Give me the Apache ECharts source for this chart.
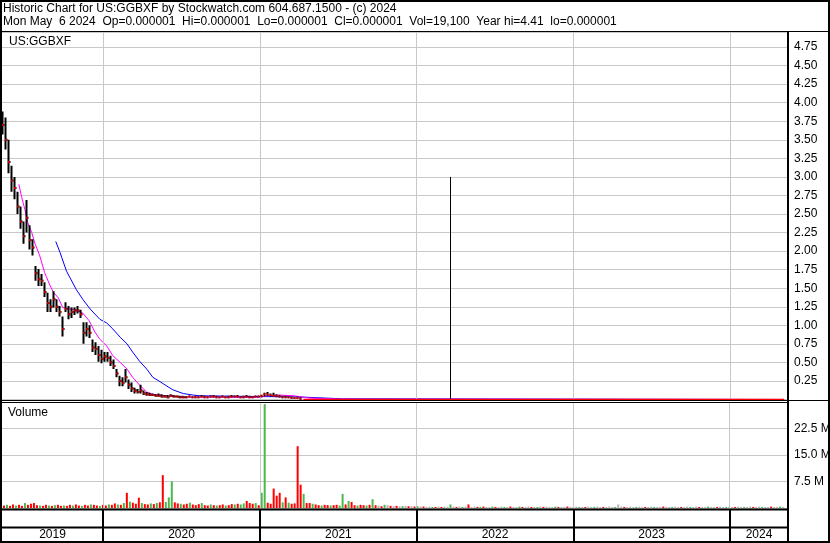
<!DOCTYPE html>
<html><head><meta charset="utf-8">
<script src="https://cdn.jsdelivr.net/npm/echarts@6/dist/echarts.min.js"></script>
<style>html,body{margin:0;padding:0;background:#fff}#c{width:830px;height:543px}</style>
</head><body><div id="c"></div>
<script>
// ---------- texts ----------
const titleLine1 = 'Historic Chart for US:GGBXF by Stockwatch.com 604.687.1500 - (c) 2024';
const titleLine2 = 'Mon May  6 2024  Op=0.000001  Hi=0.000001  Lo=0.000001  Cl=0.000001  Vol=19,100  Year hi=4.41  lo=0.000001';
const symbolLabel = 'US:GGBXF';
const volumeLabel = 'Volume';

// ---------- axes ----------
const axisStart = '2019-05-10';
const axisEnd = '2024-05-15';
const yearLabels = ['2019', '2020', '2021', '2022', '2023', '2024'];
const yearBoundaries = ['2020-01-01', '2021-01-01', '2022-01-01', '2023-01-01', '2024-01-01'];
const priceMax = 4.953;
const priceStep = 0.25;
const volumeMax = 30;      // millions
const volumeStep = 7.5;    // millions

// ---------- weekly price bars (first week starts 2019-05-13) ----------
const firstWeek = '2019-05-13';
const priceHigh = [3.88,3.80,3.50,3.15,3.00,2.80,2.60,2.40,2.69,2.35,
2.16,1.80,1.76,1.69,1.58,1.44,1.35,1.46,1.35,1.26,
1.12,1.31,1.26,1.24,1.24,1.26,1.21,1.04,1.04,1.00,
0.81,0.77,0.72,0.67,0.64,0.64,0.59,0.54,0.41,0.32,
0.30,0.41,0.27,0.23,0.16,0.14,0.20,0.12,0.10,0.09,
0.08,0.07,0.08,0.07,0.06,0.06,0.07,0.06,0.05,0.05,
0.05,0.04,0.05,0.04,0.05,0.04,0.06,0.05,0.04,0.05,
0.06,0.05,0.04,0.05,0.04,0.05,0.06,0.05,0.06,0.04,
0.05,0.06,0.05,0.04,0.05,0.05,0.06,0.09,0.10,0.08,
0.09,0.07,0.06,0.05,0.05,0.04,0.04,0.03,0.04,0.03];
const priceLow = [3.57,3.37,3.05,2.80,2.70,2.50,2.30,2.10,2.25,2.02,
1.94,1.60,1.53,1.53,1.38,1.18,1.18,1.24,1.18,1.12,
0.85,1.18,1.08,1.10,1.14,1.16,1.10,0.75,0.85,0.83,
0.64,0.60,0.51,0.49,0.51,0.51,0.45,0.41,0.30,0.18,
0.18,0.23,0.14,0.10,0.08,0.08,0.08,0.06,0.05,0.05,
0.05,0.04,0.04,0.04,0.03,0.03,0.04,0.03,0.03,0.02,
0.02,0.02,0.03,0.02,0.02,0.02,0.03,0.02,0.02,0.03,
0.03,0.02,0.02,0.03,0.02,0.02,0.03,0.03,0.03,0.02,
0.02,0.03,0.02,0.02,0.03,0.03,0.03,0.04,0.05,0.04,
0.04,0.03,0.03,0.02,0.02,0.02,0.01,0.01,0.01,0.01];
const priceClose = [3.70,3.50,3.20,2.95,2.85,2.60,2.40,2.20,2.45,2.15,
2.05,1.70,1.62,1.60,1.45,1.30,1.25,1.35,1.25,1.18,
0.95,1.22,1.15,1.18,1.20,1.20,1.15,0.90,0.95,0.90,
0.70,0.68,0.60,0.55,0.58,0.56,0.50,0.45,0.35,0.25,
0.22,0.30,0.20,0.15,0.12,0.10,0.12,0.08,0.07,0.06,
0.06,0.05,0.05,0.04,0.04,0.03,0.05,0.04,0.04,0.03,
0.03,0.03,0.04,0.03,0.03,0.03,0.04,0.03,0.03,0.04,
0.04,0.03,0.03,0.04,0.03,0.03,0.04,0.04,0.04,0.03,
0.03,0.04,0.03,0.03,0.04,0.04,0.05,0.07,0.07,0.06,
0.05,0.05,0.04,0.03,0.03,0.03,0.02,0.02,0.02,0.01];

// late flat period and the single spike bar
const lateCloseDates = ['2021-04-12', '2024-05-06'];
const lateClose = [0.000001, 0.000001];
const spikeDate = '2022-03-22';
const spikeHigh = 3.00;
const spikeLow = 0.000001;

// moving averages
const maFastDates = ['2019-06-19','2019-06-25','2019-07-03','2019-07-10','2019-07-19','2019-07-26','2019-08-06','2019-08-18','2019-08-31','2019-09-08','2019-09-19','2019-09-29','2019-10-16','2019-10-29','2019-11-14','2019-11-30','2019-12-13','2019-12-25','2020-01-10','2020-01-24','2020-02-10','2020-02-26','2020-03-10','2020-03-27','2020-04-12','2020-04-26','2020-05-29','2020-06-28','2020-10-23','2021-01-01','2021-01-17','2021-02-14','2021-03-21','2021-04-25','2021-07-05','2024-05-06'];
const maFast = [2.90,2.74,2.56,2.38,2.25,2.11,1.95,1.71,1.53,1.44,1.37,1.24,1.22,1.21,1.17,1.06,0.91,0.81,0.72,0.59,0.50,0.41,0.30,0.19,0.10,0.07,0.05,0.035,0.03,0.03,0.05,0.06,0.05,0.02,0.005,0.000001];
const maSlowDates = ['2019-09-13','2019-09-23','2019-10-08','2019-10-31','2019-11-15','2019-12-02','2019-12-25','2020-01-10','2020-01-24','2020-02-10','2020-02-26','2020-03-10','2020-03-27','2020-04-12','2020-04-26','2020-05-13','2020-05-29','2020-06-12','2020-07-06','2020-07-29','2020-08-14','2020-12-29','2021-03-31','2021-07-10','2024-05-06'];
const maSlow = [2.13,1.98,1.73,1.48,1.35,1.22,1.08,1.03,0.95,0.84,0.75,0.64,0.51,0.41,0.30,0.24,0.18,0.13,0.08,0.06,0.05,0.04,0.035,0.01,0.000001];

// weekly volume (millions), direction r=down g=up n=unchanged
const volumeM = [0.7,0.9,0.6,1.0,0.7,0.9,0.6,1.4,0.9,1.2,
1.4,0.8,0.7,0.6,0.9,0.7,0.6,0.8,0.9,0.6,
0.7,0.6,0.9,0.7,1.0,0.7,0.6,0.9,0.7,1.0,
0.9,0.7,0.6,0.9,0.7,1.0,0.9,1.3,1.0,0.9,
1.4,4.3,1.8,1.5,1.2,2.9,1.4,1.1,1.0,1.3,
1.1,1.4,1.6,9.3,1.7,3.0,7.5,1.6,1.3,1.2,
1.0,1.2,1.5,1.0,0.8,1.1,1.4,0.8,0.7,1.0,
0.8,0.7,0.8,1.0,0.7,0.8,1.1,1.0,1.2,1.0,
1.3,2.0,1.4,1.2,1.4,0.8,4.3,29.4,1.5,1.2,
5.5,3.5,4.3,1.6,3.0,1.5,1.2,1.3,17.5,6.6,
4.0,1.4,1.4,1.2,1.0,0.8,0.7,0.9,0.8,0.7,
0.8,0.9,0.7,4.0,1.0,2.0,1.7,0.8,0.7,0.9,
0.8,0.7,0.9,2.5,0.8,0.7,0.5,0.9,0.8,0.6,
0.5,0.6,0.5,0.5,0.6,0.5,0.5,0.4,0.5,0.4,
0.4,0.3,0.4,0.3,0.3,0.4,0.3,0.4,0.3,1.0,
0.4,0.3,0.4,0.3,0.4,1.0,0.3,0.4,0.3,0.3,
0.4,0.3,0.3,0.4,0.3,0.3,0.4,0.3,0.3,0.4,
0.3,0.3,0.4,0.3,0.3,0.4,0.3,0.3,0.3,0.4,
0.3,0.4,0.3,0.3,0.4,0.3,0.3,0.3,0.4,0.3,
0.3,0.4,0.3,0.3,0.3,0.4,0.3,0.3,0.4,0.3,
0.3,0.3,0.4,0.3,0.3,1.0,0.4,0.3,0.3,0.4,
0.3,0.3,0.4,0.3,0.3,0.3,0.4,0.3,0.3,0.3,
0.4,0.3,0.3,0.3,0.4,0.3,0.3,0.3,0.4,0.3,
0.3,0.4,0.3,0.3,0.3,0.4,0.3,0.3,0.3,0.4,
0.3,0.3,0.4,0.3,0.3,0.4,0.3,0.3,0.3,0.4,
0.3,0.3,0.4,0.3,0.3,0.3,0.4,0.3,0.3,0.4,0.3];
const volumeDir = ('rgrrgrrgrr'+'rrgrrgrgrr'+'grrgrrgrrg'+'rrgrrgrrgr'+'grgrrrgrrg'+
'rgrrgggrrg'+'rrgrrrgrrg'+'rgrrgrrgrg'+'grrrgrggrr'+'rrrgrgrrrr'+
'grrgrrgrrg'+'rrggrgrrgr'+'rgrgrnrgnr'+'nrngnrnrgn'+'rnngrnrnng'+
'nrngnrnnrg'+'rnngrnngnr'+'nngrnnrngn'+'rnnngrnnrn'+'nngnrnngnn'+
'rnnngnnrnn'+'ngnnrnngnn'+'rnngnnrnng'+'nnrnngnnrn'+'ngnnrnngnn'+'rnngnnrnngn').split('');

// ---------- helpers ----------
const FONT = '"Liberation Sans", Arial, sans-serif';
function ts(s) { const p = s.split('-').map(Number); return new Date(p[0], p[1] - 1, p[2]).getTime(); }
const fw = firstWeek.split('-').map(Number);
function weekTs(i) { return new Date(fw[0], fw[1] - 1, fw[2] + 7 * i).getTime(); }
const xMin = ts(axisStart) + 17 * 3600e3;
const xMax = ts(axisEnd) + 2 * 3600e3;
const dirColor = { r: '#ff0000', g: '#4cb84c', n: '#b4b4b4' };

const candleData = priceHigh.map((h, i) => [weekTs(i), priceClose[i], priceClose[i], priceLow[i], h]);
const spikeData = [[ts(spikeDate), spikeLow, spikeLow, spikeLow, spikeHigh]];
const closeData = priceClose.map((c, i) => [weekTs(i), c]);
const lateData = lateCloseDates.map((d, i) => [ts(d), lateClose[i]]);
const maFastData = maFastDates.map((d, i) => [ts(d), maFast[i]]);
const maSlowData = maSlowDates.map((d, i) => [ts(d), maSlow[i]]);
const volData = volumeM.map((v, i) => ({ value: [weekTs(i), v], itemStyle: { color: dirColor[volumeDir[i]] } }));

const gridLineData = yearBoundaries.map(d => ({ xAxis: ts(d) }));
const yearAreas = yearLabels.map((y, i) => [
  { name: y, xAxis: i === 0 ? xMin : ts(yearBoundaries[i - 1]) },
  { xAxis: i < yearBoundaries.length ? ts(yearBoundaries[i]) : xMax }
]);

const xAxisBase = { type: 'time', min: xMin, max: xMax, show: false };
const grayMark = {
  silent: true, symbol: ['none', 'none'], animation: false,
  label: { show: false }, lineStyle: { color: '#c8c8c8', width: 1, type: 'solid' },
  emphasis: { disabled: true }, data: gridLineData
};
const blackCandle = { color: '#000', color0: '#000', borderColor: '#000', borderColor0: '#000' };

const chart = echarts.init(document.getElementById('c'), null, { renderer: 'canvas' });
chart.setOption({
  animation: false,
  backgroundColor: '#fff',
  grid: [
    { left: 2, right: 42, top: 32, height: 367.5, containLabel: false, outerBoundsMode: 'none' },
    { left: 2, right: 42, top: 402, height: 106, containLabel: false, outerBoundsMode: 'none' },
    { left: 2, right: 42, top: 509, height: 34, containLabel: false, outerBoundsMode: 'none' }
  ],
  xAxis: [
    Object.assign({ gridIndex: 0 }, xAxisBase),
    Object.assign({ gridIndex: 1 }, xAxisBase),
    Object.assign({ gridIndex: 2 }, xAxisBase)
  ],
  yAxis: [
    { gridIndex: 0, type: 'value', position: 'right', min: 0, max: priceMax, interval: priceStep,
      axisLine: { show: false }, axisTick: { show: false },
      splitLine: { show: true, lineStyle: { color: '#c8c8c8', width: 1 } },
      axisLabel: { margin: 6, color: '#000', fontSize: 12, fontFamily: FONT,
        formatter: v => (v > 0.001 && v < 4.8) ? v.toFixed(2) : '' } },
    { gridIndex: 1, type: 'value', position: 'right', min: 0, max: volumeMax, interval: volumeStep,
      axisLine: { show: false }, axisTick: { show: false },
      splitLine: { show: true, lineStyle: { color: '#c8c8c8', width: 1 } },
      axisLabel: { margin: 6, color: '#000', fontSize: 12, fontFamily: FONT,
        formatter: v => (v > 0.001 && v < volumeMax - 0.1) ? v.toFixed(1) + ' M' : '' } },
    { gridIndex: 2, type: 'value', min: 0, max: 1, show: false }
  ],
  series: [
    { type: 'line', xAxisIndex: 0, yAxisIndex: 0, data: [], z: 1, markLine: grayMark },
    { type: 'line', xAxisIndex: 1, yAxisIndex: 1, data: [], z: 1, markLine: grayMark },
    { name: 'slow', type: 'line', xAxisIndex: 0, yAxisIndex: 0, data: maSlowData, showSymbol: false, symbol: 'none',
      lineStyle: { color: '#0000ff', width: 1 }, z: 3, silent: true },
    { name: 'fast', type: 'line', xAxisIndex: 0, yAxisIndex: 0, data: maFastData, showSymbol: false, symbol: 'none',
      lineStyle: { color: '#ff00ff', width: 1 }, z: 4, silent: true },
    { name: 'price', type: 'candlestick', xAxisIndex: 0, yAxisIndex: 0, data: candleData,
      dimensions: ['date', 'open', 'close', 'low', 'high'], encode: { x: 0, y: [1, 2, 3, 4] },
      barWidth: 3, z: 5, silent: true,
      itemStyle: Object.assign({ borderWidth: 2 }, blackCandle) },
    { name: 'spike', type: 'candlestick', xAxisIndex: 0, yAxisIndex: 0, data: spikeData,
      dimensions: ['date', 'open', 'close', 'low', 'high'], encode: { x: 0, y: [1, 2, 3, 4] },
      barWidth: 1, z: 5, silent: true,
      itemStyle: Object.assign({ borderWidth: 1 }, blackCandle) },
    { name: 'close', type: 'scatter', xAxisIndex: 0, yAxisIndex: 0, data: closeData, symbol: 'rect', symbolSize: [2, 2],
      itemStyle: { color: '#ff0000' }, z: 6, silent: true },
    { name: 'closeLate', type: 'line', xAxisIndex: 0, yAxisIndex: 0, data: lateData, symbol: 'none',
      lineStyle: { color: '#ff0000', width: 1.5 }, z: 6, silent: true },
    { name: 'volume', type: 'bar', xAxisIndex: 1, yAxisIndex: 1, data: volData, barWidth: 2, z: 3, silent: true },
    { type: 'scatter', xAxisIndex: 2, yAxisIndex: 2, data: [], z: 2,
      markLine: { silent: true, symbol: ['none', 'none'], animation: false, label: { show: false },
        lineStyle: { color: '#000', width: 2, type: 'solid' }, emphasis: { disabled: true }, data: gridLineData },
      markArea: { silent: true, animation: false, itemStyle: { color: 'rgba(0,0,0,0)' },
        label: { show: true, position: 'insideBottom', distance: 2, color: '#000', fontSize: 12, fontFamily: FONT },
        emphasis: { disabled: true }, data: yearAreas } }
  ],
  graphic: [
    { type: 'line', shape: { x1: 0, y1: 31.5, x2: 830, y2: 31.5 }, style: { stroke: '#000', lineWidth: 1 }, z: 100, silent: true },
    { type: 'line', shape: { x1: 788, y1: 31, x2: 788, y2: 543 }, style: { stroke: '#000', lineWidth: 2 }, z: 100, silent: true },
    { type: 'line', shape: { x1: 0, y1: 400.5, x2: 830, y2: 400.5 }, style: { stroke: '#000', lineWidth: 1 }, z: 100, silent: true },
    { type: 'line', shape: { x1: 0, y1: 402.5, x2: 788, y2: 402.5 }, style: { stroke: '#000', lineWidth: 1 }, z: 100, silent: true },
    { type: 'line', shape: { x1: 0, y1: 509.5, x2: 788, y2: 509.5 }, style: { stroke: '#000', lineWidth: 2 }, z: 100, silent: true },
    { type: 'line', shape: { x1: 0, y1: 527.5, x2: 788, y2: 527.5 }, style: { stroke: '#000', lineWidth: 2 }, z: 100, silent: true },
    { type: 'rect', shape: { x: 1, y: 1, width: 828, height: 541 }, style: { fill: 'none', stroke: '#000', lineWidth: 2 }, z: 100, silent: true },
    { type: 'text', x: 3, y: 9, style: { text: titleLine1, font: '12px ' + FONT, fill: '#000', verticalAlign: 'middle' }, z: 100, silent: true },
    { type: 'text', x: 3, y: 22, style: { text: titleLine2, font: '12px ' + FONT, fill: '#000', verticalAlign: 'middle' }, z: 100, silent: true },
    { type: 'text', x: 9, y: 42, style: { text: symbolLabel, font: '12px ' + FONT, fill: '#000', verticalAlign: 'middle' }, z: 100, silent: true },
    { type: 'text', x: 8, y: 413, style: { text: volumeLabel, font: '12px ' + FONT, fill: '#000', verticalAlign: 'middle' }, z: 100, silent: true }
  ]
});
</script>
</body></html>
